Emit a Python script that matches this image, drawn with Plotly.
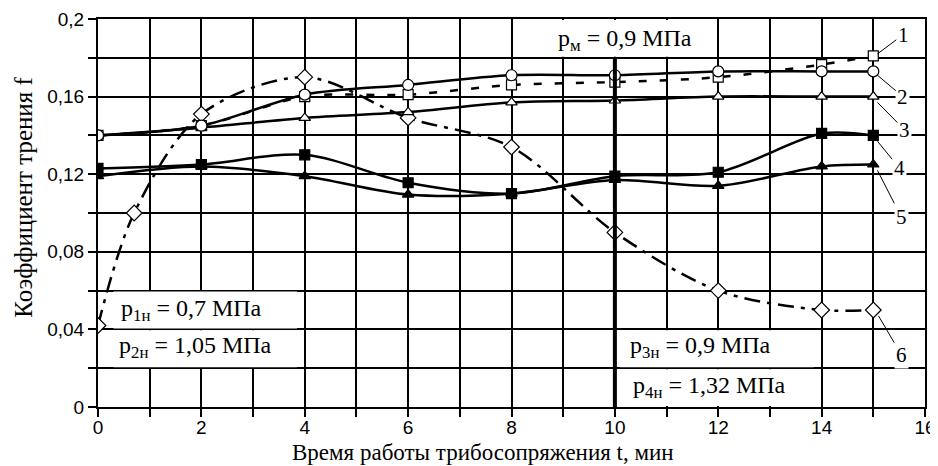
import plotly.graph_objects as go

# ---- data ----
t_main = [0, 2, 4, 6, 8, 10, 12, 14, 15]
f1 = [0.140, 0.145, 0.160, 0.161, 0.166, 0.1675, 0.170, 0.1765, 0.181]
f2 = [0.140, 0.145, 0.161, 0.166, 0.171, 0.171, 0.173, 0.173, 0.173]
f3 = [0.140, 0.144, 0.149, 0.152, 0.157, 0.158, 0.160, 0.160, 0.160]
f4 = [0.123, 0.125, 0.130, 0.1156, 0.110, 0.119, 0.121, 0.141, 0.140]
f5 = [0.119, 0.124, 0.119, 0.1095, 0.110, 0.117, 0.114, 0.124, 0.125]
t6 = [0, 0.7, 2, 4, 6, 8, 10, 12, 14, 15]
f6 = [0.042, 0.100, 0.151, 0.170, 0.149, 0.134, 0.090, 0.060, 0.050, 0.050]

x_tickvals = [0, 2, 4, 6, 8, 10, 12, 14, 16]
x_ticktext = ["0", "2", "4", "6", "8", "10", "12", "14", "16"]
y_tickvals = [0, 0.04, 0.08, 0.12, 0.16, 0.2]
y_ticktext = ["0", "0,04", "0,08", "0,12", "0,16", "0,2"]

curve_labels = ["1", "2", "3", "4", "5", "6"]
label_tip_x = [15.08, 15.08, 15.08, 15.08, 15.08, 15.1]
label_tip_y = [0.182, 0.171, 0.157, 0.137, 0.122, 0.047]
label_txt_x = [15.58, 15.57, 15.6, 15.5, 15.54, 15.54]
label_txt_y = [0.192, 0.160, 0.143, 0.1233, 0.098, 0.027]

SERIF = "Liberation Serif"
SANS = "Liberation Sans"

fig = go.Figure()

def add(x, y, symbol, size, fill, dash, name):
    fig.add_trace(go.Scatter(
        x=x, y=y, mode="lines+markers", name=name,
        line=dict(color="black", width=2.5, dash=dash, shape="spline", smoothing=0.9),
        marker=dict(symbol=symbol, size=size, color=fill,
                    line=dict(color="black", width=1.2)),
        showlegend=False, hoverinfo="skip"))

add(t6, f6, "diamond", 12, "white", "16px,7px,4px,7px", "6")
add(t_main, f5, "triangle-up", 10, "black", "solid", "5")
add(t_main, f4, "square", 10, "black", "solid", "4")
add(t_main, f3, "triangle-up", 10, "white", "solid", "3")
add(t_main, f1, "square", 10, "white", "8px,13px", "1")
add(t_main, f2, "circle", 11, "white", "solid", "2")

# white cells behind the pressure labels (between grid and traces)
rects = [
    (8.6, 11.85, 0.1805, 0.1995),
    (0.3, 3.85, 0.0405, 0.0595),
    (0.3, 3.85, 0.0205, 0.0395),
    (10.1, 13.85, 0.0205, 0.0395),
    (10.1, 13.85, 0.0005, 0.0195),
]
for x0, x1, y0, y1 in rects:
    fig.add_shape(type="rect", xref="x", yref="y", x0=x0, x1=x1, y0=y0, y1=y1,
                  fillcolor="white", line=dict(width=0), layer="between")

# thick vertical line at t = 10
fig.add_shape(type="line", xref="x", yref="y", x0=10, x1=10, y0=0, y1=0.18,
              line=dict(color="black", width=4), layer="above")

ann = []
for lab, tx, ty, ax, ay in zip(curve_labels, label_tip_x, label_tip_y, label_txt_x, label_txt_y):
    ann.append(dict(x=tx, y=ty, xref="x", yref="y", ax=ax, ay=ay, axref="x", ayref="y",
                    text=lab, showarrow=True, arrowhead=0, arrowwidth=1, arrowcolor="black",
                    bgcolor="white", borderpad=1,
                    font=dict(family=SERIF, size=21, color="black")))

ptxt = [
    ("p<sub>м</sub> = 0,9 МПа", 10.19, 0.1893, "center"),
    ("p<sub>1н</sub> = 0,7 МПа", 0.40, 0.0502, "left"),
    ("p<sub>2н</sub> = 1,05 МПа", 0.36, 0.0311, "left"),
    ("p<sub>3н</sub> = 0,9 МПа", 10.26, 0.0311, "left"),
    ("p<sub>4н</sub> = 1,32 МПа", 10.32, 0.0105, "left"),
]
for txt, x, y, xa in ptxt:
    ann.append(dict(x=x, y=y, xref="x", yref="y", text=txt, showarrow=False,
                    xanchor=xa, yanchor="middle",
                    font=dict(family=SERIF, size=24, color="black")))

ann.append(dict(x=0.4655, y=-0.1165, xref="paper", yref="paper",
                text="Время работы трибосопряжения t, мин", showarrow=False,
                xanchor="center", yanchor="middle",
                font=dict(family=SERIF, size=23, color="black")))
ann.append(dict(x=-0.0895, y=0.542, xref="paper", yref="paper",
                text="Коэффициент трения f", showarrow=False, textangle=-90,
                xanchor="center", yanchor="middle",
                font=dict(family=SERIF, size=25, color="black")))

axis_common = dict(
    showgrid=True, gridcolor="black", gridwidth=2,
    showline=True, linecolor="black", linewidth=2, mirror=True,
    ticks="outside", ticklen=8, tickwidth=2, tickcolor="black",
    zeroline=False, automargin=False,
    tickfont=dict(family=SANS, size=19, color="black"),
)

fig.update_xaxes(range=[0, 16], tickmode="array", tickvals=x_tickvals, ticktext=x_ticktext,
                 ticklabelstandoff=-6,
                 minor=dict(dtick=1, tick0=0, showgrid=True, gridcolor="black", gridwidth=2,
                            ticks="outside", ticklen=8, tickwidth=2, tickcolor="black"),
                 **axis_common)
fig.update_yaxes(range=[0, 0.2], tickmode="array", tickvals=y_tickvals, ticktext=y_ticktext,
                 minor=dict(dtick=0.02, tick0=0, showgrid=True, gridcolor="black", gridwidth=2,
                            ticks="outside", ticklen=8, tickwidth=2, tickcolor="black"),
                 **axis_common)

# page body has an 8px margin: size the figure so the plot lands where the reference has it
fig.update_layout(
    width=930, height=458,
    margin=dict(l=90, r=13, t=11, b=59),
    plot_bgcolor="white", paper_bgcolor="white",
    annotations=ann,
    showlegend=False,
)

fig.write_html("out.html")
